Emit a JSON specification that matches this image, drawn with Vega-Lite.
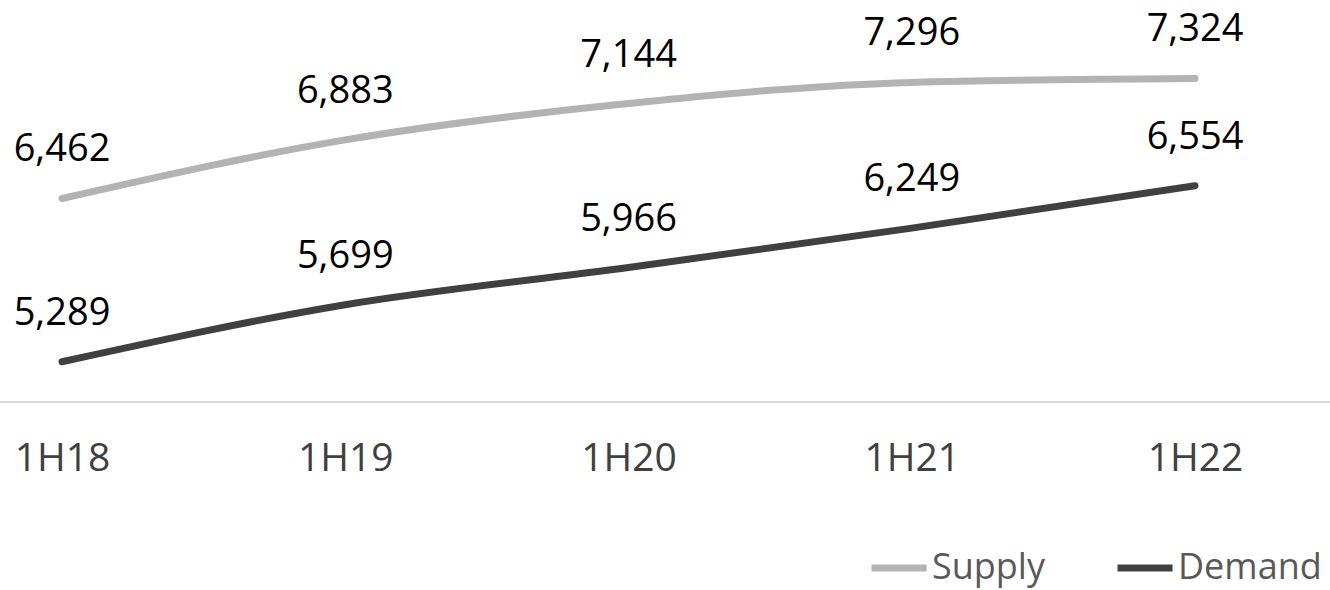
{
  "$schema": "https://vega.github.io/schema/vega-lite/v6.json",
  "width": 1330,
  "height": 590,
  "padding": 0,
  "autosize": {"type": "none"},
  "background": "white",
  "config": {
    "view": {"stroke": null},
    "font": "Open Sans"
  },
  "data": {
    "values": [
      {"period": "1H18", "series": "Supply", "value": 6462},
      {"period": "1H19", "series": "Supply", "value": 6883},
      {"period": "1H20", "series": "Supply", "value": 7144},
      {"period": "1H21", "series": "Supply", "value": 7296},
      {"period": "1H22", "series": "Supply", "value": 7324},
      {"period": "1H18", "series": "Demand", "value": 5289},
      {"period": "1H19", "series": "Demand", "value": 5699},
      {"period": "1H20", "series": "Demand", "value": 5966},
      {"period": "1H21", "series": "Demand", "value": 6249},
      {"period": "1H22", "series": "Demand", "value": 6554}
    ]
  },
  "encoding": {
    "x": {
      "field": "period",
      "type": "ordinal",
      "scale": {"type": "point", "range": [62, 1195], "padding": 0},
      "axis": {
        "title": null,
        "domain": false,
        "ticks": false,
        "offset": -188,
        "labelAngle": 0,
        "labelFont": "Open Sans",
        "labelFontSize": 39,
        "labelColor": "#404040",
        "labelBaseline": "alphabetic",
        "labelPadding": 68
      }
    },
    "y": {
      "field": "value",
      "type": "quantitative",
      "scale": {"domain": [3649, 7888], "nice": false, "zero": false},
      "axis": null
    }
  },
  "layer": [
    {
      "mark": {"type": "rule", "color": "#d9d9d9", "strokeWidth": 2},
      "encoding": {"y": {"datum": 5000}, "x": null}
    },
    {
      "mark": {"type": "line", "interpolate": "monotone", "strokeWidth": 7, "strokeCap": "round", "strokeJoin": "round"},
      "encoding": {
        "color": {
          "field": "series",
          "type": "nominal",
          "scale": {"domain": ["Supply", "Demand"], "range": ["#b3b3b3", "#404040"]},
          "legend": {
            "title": null,
            "orient": "none",
            "direction": "horizontal",
            "legendX": 868,
            "legendY": 537,
            "symbolType": "stroke",
            "symbolSize": 3025,
            "symbolStrokeWidth": 7,
            "labelFont": "Open Sans",
            "labelFontSize": 36,
            "labelColor": "#595959",
            "labelOffset": 2,
            "columnPadding": 58
          }
        }
      }
    },
    {
      "mark": {"type": "text", "baseline": "alphabetic", "dy": -37, "fontSize": 38, "color": "#000000", "font": "Open Sans"},
      "encoding": {
        "text": {"field": "value", "type": "quantitative", "format": ","}
      }
    }
  ]
}
